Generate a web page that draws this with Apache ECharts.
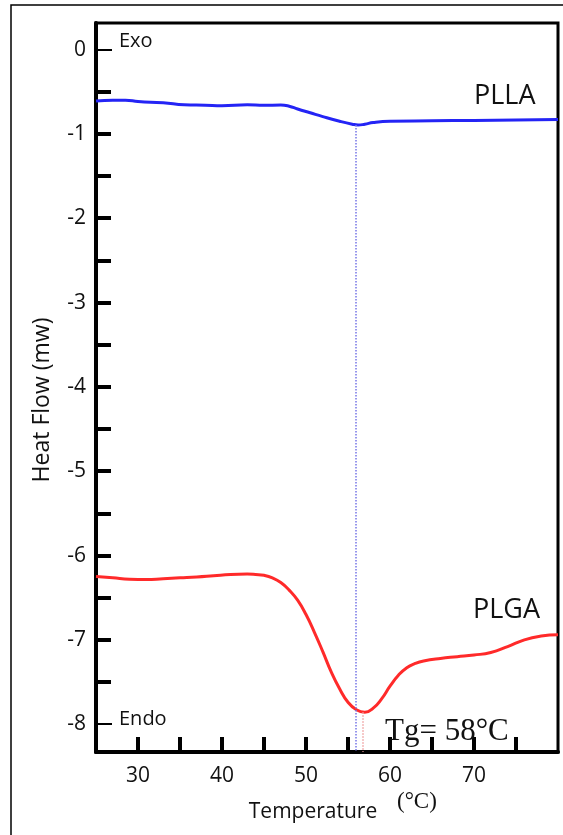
<!DOCTYPE html>
<html>
<head>
<meta charset="utf-8">
<script src="https://cdn.jsdelivr.net/npm/echarts@6.0.0/dist/echarts.min.js"></script>
<style>
html,body{margin:0;padding:0;background:#fff;}
#chart{width:563px;height:835px;}
</style>
</head>
<body>
<div id="chart"></div>
<script>
// ---- data ----
const pllaTemp = [25, 27, 28.5, 30, 31.5, 33, 35.5, 38, 40, 43, 45, 47, 48, 49, 50.5, 52, 54, 55.5, 56.2, 57, 58, 60, 65, 70, 75, 80];
const pllaFlow = [-0.61, -0.60, -0.60, -0.615, -0.625, -0.63, -0.655, -0.66, -0.665, -0.655, -0.66, -0.658, -0.672, -0.705, -0.75, -0.795, -0.85, -0.885, -0.895, -0.885, -0.865, -0.85, -0.845, -0.84, -0.835, -0.83];

const plgaTemp = [25, 27, 29, 31, 33, 35, 37, 39, 41, 43, 44, 45, 46, 47, 48, 49, 50, 51, 52, 53, 54, 55, 56, 57, 58, 59, 60, 61, 62, 63, 64, 66, 68, 70, 72, 74, 76, 78, 80];
const plgaFlow = [-6.25, -6.265, -6.28, -6.285, -6.275, -6.265, -6.255, -6.24, -6.225, -6.22, -6.225, -6.235, -6.265, -6.32, -6.41, -6.53, -6.70, -6.91, -7.14, -7.38, -7.58, -7.74, -7.83, -7.86, -7.81, -7.70, -7.55, -7.42, -7.33, -7.28, -7.25, -7.22, -7.20, -7.18, -7.15, -7.08, -7.00, -6.955, -6.94];

const pllaMarkTemp = 55.9, pllaMarkFlow = -0.895;
const plgaMarkTemp = 56.7, plgaMarkFlow = -7.86;

const xRange = [25, 80];
const yRange = [-8.33, 0.315];
const xTickValues = [30, 35, 40, 45, 50, 55, 60, 65, 70, 75];
const xLabelValues = [30, 40, 50, 60, 70];
const yLabelValues = [0, -1, -2, -3, -4, -5, -6, -7, -8];
const yThickTicks = [-0.5, -1, -1.5, -2, -2.5, -3, -3.5, -4, -4.5, -5, -5.5, -6, -6.5, -7, -7.5];
const yThinTicks = [0, -8];

// ---- chart ----
const sans = '"Open Sans", "Noto Sans", sans-serif';
const serif = '"Liberation Serif", "DejaVu Serif", serif';

const zip = (a, b) => a.map((v, i) => [v, b[i]]);

const chart = echarts.init(document.getElementById('chart'));
chart.setOption({
  animation: false,
  backgroundColor: '#fff',
  grid: { left: 96, top: 23, right: 5, bottom: 83, show: true, borderColor: '#000', borderWidth: 3 },
  xAxis: {
    type: 'value', min: xRange[0], max: xRange[1],
    axisLine: { onZero: false, lineStyle: { color: '#000', width: 4 } },
    axisTick: { inside: true, length: 15, customValues: xTickValues, lineStyle: { color: '#000', width: 4 } },
    axisLabel: { customValues: xLabelValues, margin: 14, fontFamily: sans, fontSize: 21, color: '#111' },
    splitLine: { show: false }
  },
  yAxis: [{
    type: 'value', min: yRange[0], max: yRange[1],
    axisLine: { onZero: false, lineStyle: { color: '#000', width: 4 } },
    axisTick: { inside: true, length: 15, customValues: yThickTicks, lineStyle: { color: '#000', width: 4 } },
    axisLabel: { customValues: yLabelValues, margin: 10, fontFamily: sans, fontSize: 21, color: '#111' },
    splitLine: { show: false }
  }, {
    type: 'value', min: yRange[0], max: yRange[1], position: 'left',
    axisLine: { show: false },
    axisTick: { inside: true, length: 16, customValues: yThinTicks, lineStyle: { color: '#000', width: 2 } },
    axisLabel: { show: false },
    splitLine: { show: false }
  }],
  series: [{
    name: 'PLLA', type: 'line', data: zip(pllaTemp, pllaFlow), showSymbol: false, smooth: 0.5,
    lineStyle: { color: '#2424f5', width: 3 },
    markLine: {
      silent: true, symbol: ['none', 'none'], label: { show: false },
      lineStyle: { color: '#7676e6', type: 'dotted', width: 1.5 },
      data: [[{ coord: [pllaMarkTemp, pllaMarkFlow] }, { coord: [pllaMarkTemp, yRange[0]] }]]
    }
  }, {
    name: 'PLGA', type: 'line', data: zip(plgaTemp, plgaFlow), showSymbol: false, smooth: 0.5,
    lineStyle: { color: '#ff2a2a', width: 3 },
    markLine: {
      silent: true, symbol: ['none', 'none'], label: { show: false },
      lineStyle: { color: '#f0a0a0', type: 'dotted', width: 1.5 },
      data: [[{ coord: [plgaMarkTemp, plgaMarkFlow] }, { coord: [plgaMarkTemp, yRange[0]] }]]
    }
  }],
  graphic: [
    { type: 'rect', z: 0, shape: { x: 11, y: 5, width: 700, height: 900 }, style: { fill: 'none', stroke: '#000', lineWidth: 1.5 } },
    { type: 'text', z: 10, x: 474, y: 96, style: { text: 'PLLA', font: '27px ' + sans, fill: '#111', textVerticalAlign: 'middle' } },
    { type: 'text', z: 10, x: 473, y: 610, style: { text: 'PLGA', font: '27px ' + sans, fill: '#111', textVerticalAlign: 'middle' } },
    { type: 'text', z: 10, x: 119, y: 41, style: { text: 'Exo', font: '20px ' + sans, fill: '#111', textVerticalAlign: 'middle' } },
    { type: 'text', z: 10, x: 119, y: 719, style: { text: 'Endo', font: '20px ' + sans, fill: '#111', textVerticalAlign: 'middle' } },
    { type: 'text', z: 10, x: 385, y: 732, style: { text: 'Tg= 58°C', font: '31px ' + serif, fill: '#111', textVerticalAlign: 'middle' } },
    { type: 'text', z: 10, x: 313, y: 812, style: { text: 'Temperature', font: '21px ' + sans, fill: '#111', textAlign: 'center', textVerticalAlign: 'middle' } },
    { type: 'text', z: 11, x: 381, y: 802, style: { text: '(°C)', font: '23px ' + serif, fill: '#111', textVerticalAlign: 'middle', backgroundColor: '#fff', padding: [0, 6, 14, 16] } },
    { type: 'text', z: 10, x: 42, y: 400, rotation: Math.PI / 2, style: { text: 'Heat Flow (mw)', font: '23px ' + sans, fill: '#111', textAlign: 'center', textVerticalAlign: 'middle' } }
  ]
});
</script>
</body>
</html>
